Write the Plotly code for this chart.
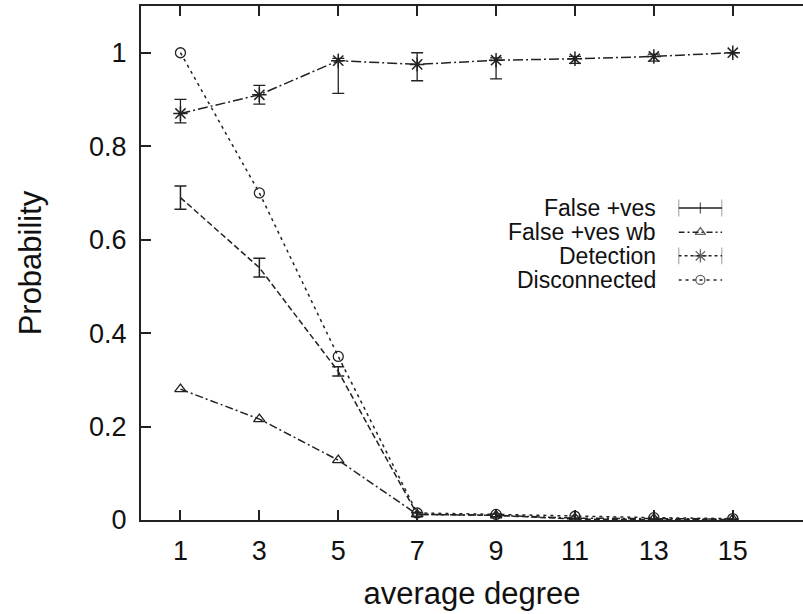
import plotly.graph_objects as go

x = [1, 3, 5, 7, 9, 11, 13, 15]
false_pos = [0.69, 0.54, 0.318, 0.012, 0.01, 0.002, 0.001, 0.001]
false_pos_err = [0.025, 0.02, 0.01, 0.004, 0.003, 0.002, 0.001, 0.001]
false_pos_wb = [0.28, 0.216, 0.128, 0.012, 0.01, 0.004, 0.003, 0.002]
detection = [0.87, 0.91, 0.983, 0.975, 0.984, 0.987, 0.992, 1.0]
detection_err_plus = [0.03, 0.02, 0.005, 0.025, 0.005, 0.005, 0.005, 0.0]
detection_err_minus = [0.02, 0.02, 0.07, 0.035, 0.04, 0.01, 0.01, 0.0]
disconnected = [1.0, 0.70, 0.35, 0.015, 0.012, 0.008, 0.005, 0.003]
x_ticks = [1, 3, 5, 7, 9, 11, 13, 15]
y_ticks = [0, 0.2, 0.4, 0.6, 0.8, 1]
y_tick_labels = ["0", "0.2", "0.4", "0.6", "0.8", "1"]
legend_names = ["False +ves", "False +ves wb", "Detection", "Disconnected"]

C = "#222222"
FONT = "Liberation Sans"
fig = go.Figure()

fig.add_trace(go.Scatter(
    x=x, y=false_pos, mode="lines+markers",
    line=dict(color=C, width=1.5, dash="6px,3px"),
    marker=dict(symbol="line-ew", size=1, color=C),
    error_y=dict(type="data", array=false_pos_err, color=C, thickness=1.5, width=6),
    showlegend=False))
fig.add_trace(go.Scatter(
    x=x, y=false_pos_wb, mode="lines+markers",
    line=dict(color=C, width=1.5, dash="8px,3px,2px,3px"),
    marker=dict(symbol="triangle-up-open", size=10, color=C, line=dict(width=1.3)),
    showlegend=False))
fig.add_trace(go.Scatter(
    x=x, y=detection, mode="lines+markers",
    line=dict(color=C, width=1.5, dash="10px,3px,2px,3px"),
    marker=dict(symbol="asterisk-open", size=12, color=C, line=dict(width=1.5, color=C)),
    error_y=dict(type="data", symmetric=False, array=detection_err_plus,
                 arrayminus=detection_err_minus, color=C, thickness=1.3, width=6),
    showlegend=False))
fig.add_trace(go.Scatter(
    x=x, y=disconnected, mode="lines+markers",
    line=dict(color=C, width=1.5, dash="3px,4px"),
    marker=dict(symbol="circle-open", size=10, color=C, line=dict(width=1.3)),
    showlegend=False))

# legend (text right-aligned, sample to the right)
leg_y = [0.607, 0.560, 0.514, 0.467]
leg_dash = ["solid", "6px,3px,2px,3px", "3px,3px", "3px,4px"]
leg_sym = ["line-ns", "triangle-up-open", "asterisk-open", "circle-open"]
leg_size = [8, 9, 11, 9]
leg_cap = [12, 0, 12, 0]
for name, yy, d, s, sz, cap in zip(legend_names, leg_y, leg_dash, leg_sym, leg_size, leg_cap):
    fig.add_annotation(xref="paper", yref="paper", x=0.781, y=yy, text=name,
                       showarrow=False, xanchor="right", yanchor="middle",
                       font=dict(size=23, color="#111", family=FONT))
    fig.add_trace(go.Scatter(
        x=[0.0, 0.5, 1.0], y=[yy, yy, yy], xaxis="x2", yaxis="y2",
        mode="lines+markers",
        line=dict(color=C, width=1.5, dash=d),
        marker=dict(symbol=["line-ns", s, "line-ns"], size=[cap, sz, cap], color=C,
                    line=dict(width=1.3, color=C)),
        showlegend=False, hoverinfo="skip"))

fig.update_layout(
    width=803, height=614,
    margin=dict(l=141, r=0, t=6, b=94),
    paper_bgcolor="white", plot_bgcolor="rgba(0,0,0,0)",
    font=dict(family=FONT, color="#111"),
    xaxis=dict(range=[0, 16.78], tickvals=x_ticks, ticks="inside", ticklen=10,
               tickwidth=1.5, tickcolor="#222", showline=True, linecolor="#222",
               linewidth=2, mirror="ticks", showgrid=False, zeroline=False,
               tickfont=dict(size=27), automargin=False, ticklabelstandoff=6,
               title=dict(text="average degree", font=dict(size=31), standoff=17)),
    yaxis=dict(range=[0, 1.1], tickvals=y_ticks, ticktext=y_tick_labels,
               ticks="inside", ticklen=10, tickwidth=1.5, tickcolor="#222",
               showline=True, linecolor="#222", linewidth=2, mirror=False,
               showgrid=False, zeroline=False, tickfont=dict(size=27),
               automargin=False, ticklabelstandoff=7,
               title=dict(text="Probability", font=dict(size=31), standoff=38)),
    xaxis2=dict(domain=[0.812, 0.878], range=[0, 1], visible=False, anchor="y2"),
    yaxis2=dict(domain=[0, 1], range=[0, 1], visible=False, anchor="x2", overlaying="y"),
)

fig.write_html("out.html", config={"displayModeBar": False},
               post_script="document.body.style.margin='0';document.body.style.overflow='hidden';")
